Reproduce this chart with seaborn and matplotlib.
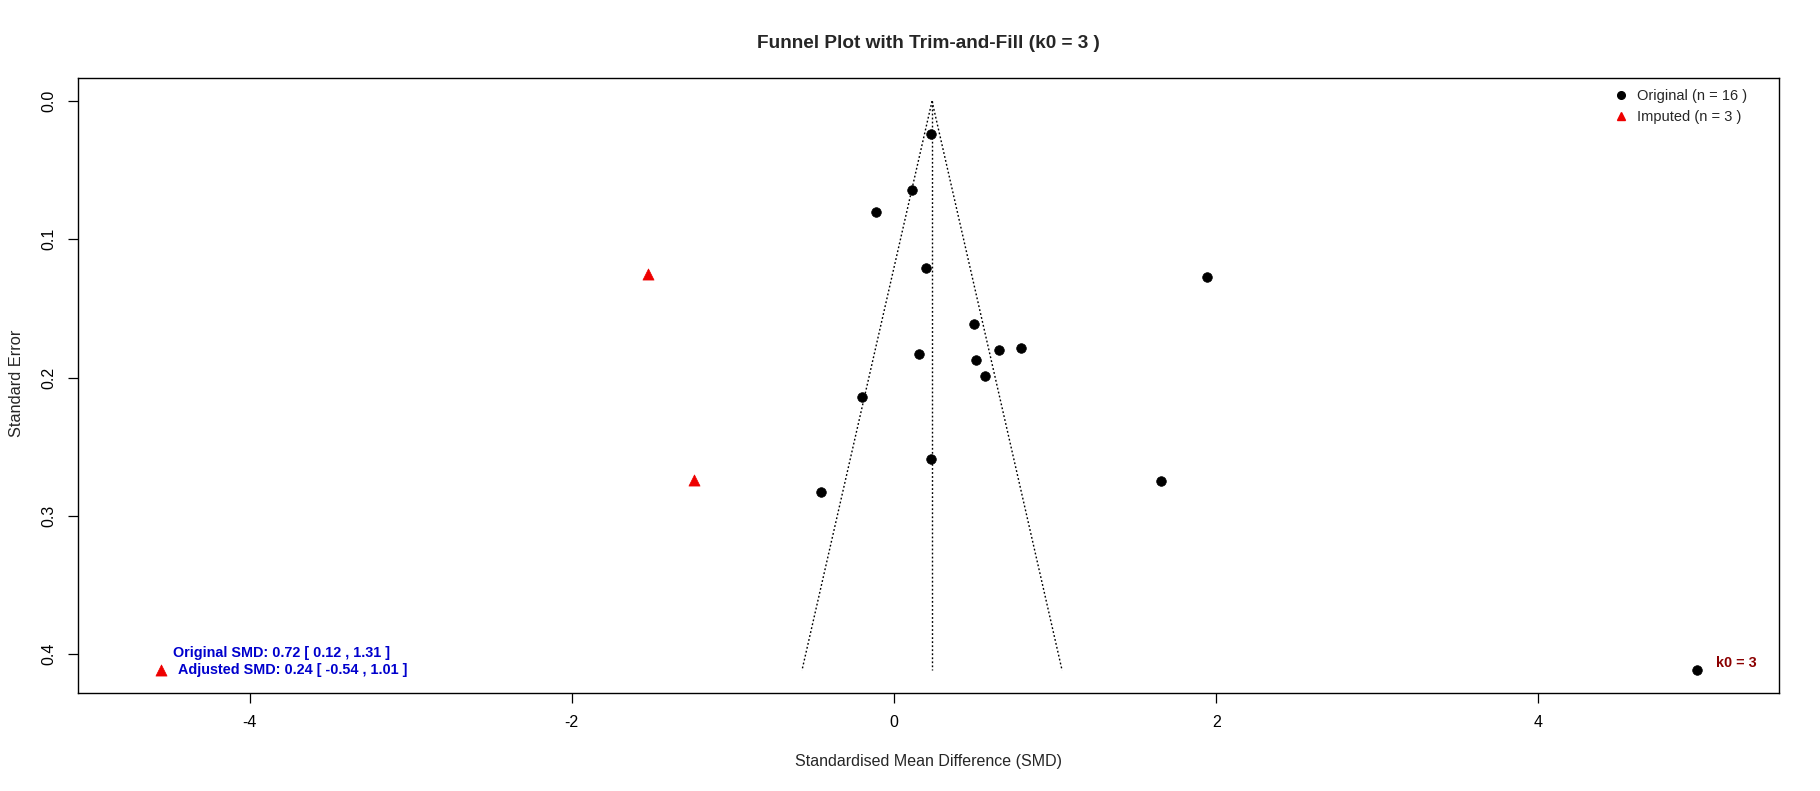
import numpy as np
import pandas as pd
import matplotlib
matplotlib.use("Agg")
import matplotlib.pyplot as plt
from matplotlib.lines import Line2D
import seaborn as sns

# ---- data ----
orig_smd = [0.232, 0.114, -0.110, 0.199, 1.944, 0.498, 0.654, 0.791, 0.157, 0.507,
            0.567, -0.196, 0.230, 1.656, -0.455, 4.983]
orig_se = [0.024, 0.064, 0.080, 0.121, 0.127, 0.161, 0.180, 0.179, 0.183, 0.187,
           0.199, 0.214, 0.259, 0.275, 0.283, 0.412]
imp_smd = [-1.529, -1.241, -4.550]
imp_se = [0.125, 0.274, 0.412]
adj_smd = 0.236
se_max = 0.412
z_crit = 1.96

title = "Funnel Plot with Trim-and-Fill (k0 = 3 )"
xlabel = "Standardised Mean Difference (SMD)"
ylabel = "Standard Error"
x_ticks = [-4, -2, 0, 2, 4]
y_ticks = [0.0, 0.1, 0.2, 0.3, 0.4]
legend_labels = ["Original (n = 16 )", "Imputed (n = 3 )"]
orig_text = "Original SMD: 0.72 [ 0.12 , 1.31 ]"
adj_text = "Adjusted SMD: 0.24 [ -0.54 , 1.01 ]"
k0_text = "k0 = 3"

sns.set_style("white")
plt.rcParams['font.family'] = ['Liberation Sans', 'DejaVu Sans']

W, H = 1820, 791
fig = plt.figure(figsize=(W / 100, H / 100), dpi=100)
ax_l, ax_t, ax_r, ax_b = 78, 78.3, 1779.3, 693.3
ax = fig.add_axes([ax_l / W, 1 - ax_b / H, (ax_r - ax_l) / W, (ax_b - ax_t) / H])

df_o = pd.DataFrame({"smd": orig_smd, "se": orig_se})
df_i = pd.DataFrame({"smd": imp_smd, "se": imp_se})

# funnel
se_line = np.array([0.0, se_max])
ax.plot(adj_smd - z_crit * se_line, se_line, color="black", lw=1.0, ls=(0, (1.3, 1.6)))
ax.plot(adj_smd + z_crit * se_line, se_line, color="black", lw=1.0, ls=(0, (1.3, 1.6)))
ax.plot([adj_smd, adj_smd], [0, se_max], color="black", lw=1.0, ls=(0, (1.3, 1.6)))

sns.scatterplot(data=df_o, x="smd", y="se", ax=ax, color="black", marker="o",
                s=48, edgecolor="black", linewidth=0.5, legend=False, zorder=3)
sns.scatterplot(data=df_i, x="smd", y="se", ax=ax, color="#EE0000", marker="^",
                s=64, edgecolor="#EE0000", linewidth=0.5, legend=False, zorder=3)

ax.set_xlim(-5.065, 5.495)
ax.set_ylim(0.4285, -0.0165)
ax.set_xticks(x_ticks)
ax.set_xticklabels([f"{v:g}" for v in x_ticks])
ax.set_yticks(y_ticks)
ax.set_yticklabels([f"{v:.1f}" for v in y_ticks], rotation=90, va="center")
ax.tick_params(axis="both", direction="out", length=6.9, width=0.9, labelsize=11.5,
               pad=9, colors="black", left=True, bottom=True)
for sp in ax.spines.values():
    sp.set_visible(True)
    sp.set_color("black")
    sp.set_linewidth(1.0)
ax.set_xlabel("")
ax.set_ylabel("")

fig.text(928.5 / W, 1 - 761.5 / H, xlabel, ha="center", va="center", fontsize=11.5)
fig.text(16.5 / W, 1 - 383 / H, ylabel, ha="center", va="center", rotation=90,
         fontsize=11.8)
fig.text(928.5 / W, 1 - 44 / H, title, ha="center", va="center", fontsize=13.7,
         fontweight="bold")

ax.text(-4.474, 0.399, orig_text, color="#0000CD", fontweight="bold", fontsize=10.4,
        ha="left", va="center")
ax.text(-4.446, 0.4116, adj_text, color="#0000CD", fontweight="bold", fontsize=10.4,
        ha="left", va="center")
ax.text(5.10, 0.4067, k0_text, color="#8B0000", fontweight="bold", fontsize=10.4,
        ha="left", va="center")

handles = [Line2D([], [], marker="o", color="black", ls="none", markersize=5.5),
           Line2D([], [], marker="^", color="#EE0000", ls="none", markersize=6)]
ax.legend(handles, legend_labels, loc="upper left", bbox_to_anchor=(0.9024, 0.983),
          frameon=False, fontsize=10.5, borderpad=0, borderaxespad=0, handlelength=1.0,
          handletextpad=0.62, labelspacing=0.53)

fig.savefig("out.png", dpi=100, facecolor="white")
